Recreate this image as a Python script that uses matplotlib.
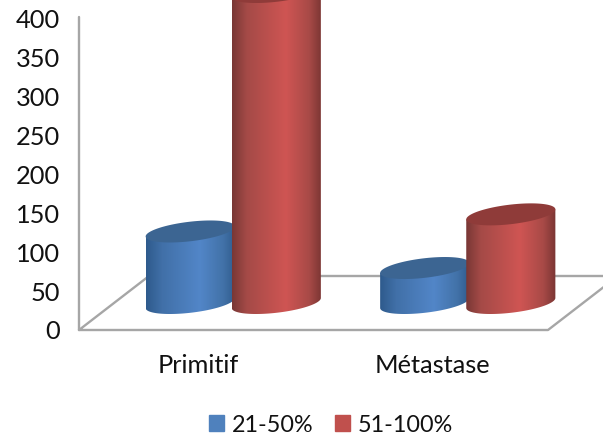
import numpy as np
import matplotlib
matplotlib.use("Agg")
import matplotlib.pyplot as plt
from matplotlib.colors import LinearSegmentedColormap
from matplotlib.patches import Patch, Polygon

# Chart data
categories = ["Primitif", "Métastase"]
series_names = ["21-50%", "51-100%"]
values_21_50 = [92, 45]
values_51_100 = [400, 114]
tick_values = [0, 50, 100, 150, 200, 250, 300, 350, 400]

# Canvas geometry, in pixels
WIDTH, HEIGHT = 603, 435
LEFT_PX, BASE_PX = 79, 331
CAT_PX = 234.5
VAL_PX = 311 / 400
x_unit = 1 / CAT_PX
y_unit = 1 / VAL_PX

DEPTH_X = 70 * x_unit
DEPTH_Y = 54 * y_unit
BAR_W = 0.38
BAR_OVERLAP = 1.5 * x_unit
CLUSTER_NUDGE = 2 * x_unit
ELL_B = 9.8 * y_unit
ELL_S = 5.0 * y_unit

FONT = "Lato"
FS_TICK = 18.3
FS_LEGEND = 16.8
TEXT = "#111111"
GRID = "#a6a6a6"

side_blue = LinearSegmentedColormap.from_list(
    "side_blue",
    [(0, "#2e5a8c"), (0.18, "#4170a8"), (0.6, "#5286c8"), (0.86, "#4272a8"), (1, "#2f5b8c")],
)
side_red = LinearSegmentedColormap.from_list(
    "side_red",
    [(0, "#783735"), (0.16, "#a44a47"), (0.6, "#cf5553"), (0.86, "#a84a47"), (1, "#7a3533")],
)
top_blue, top_red = "#3c6592", "#8f3b39"
flat_blue, flat_red = "#4f81bd", "#c0504d"

fig = plt.figure(figsize=(WIDTH / 100, HEIGHT / 100), dpi=100)
ax = fig.add_axes([0, 0, 1, 1])
ax.axis("off")
x_limits = (-LEFT_PX * x_unit, (WIDTH - LEFT_PX) * x_unit)
y_limits = (-(HEIGHT - BASE_PX) * y_unit, BASE_PX * y_unit)

# Wall edge and floor outline
n_cat = len(categories)
line_style = dict(color=GRID, lw=1.7, solid_capstyle="round", zorder=1)
ax.plot([0, 0], [0, tick_values[-1] + 3], **line_style)
ax.plot([0, DEPTH_X, n_cat + DEPTH_X, n_cat, 0], [0, DEPTH_Y, DEPTH_Y, 0, 0], **line_style)


def cylinder(center, value, cmap, top_color, z):
    a = BAR_W / 2
    y0 = DEPTH_Y / 2
    y1 = y0 + value
    t = np.linspace(np.pi, 2 * np.pi, 80)
    lower_x = center + a * np.cos(t)
    lower_y = y0 + ELL_S * np.cos(t) + ELL_B * np.sin(t)
    outline = np.column_stack(
        [
            np.r_[lower_x, center + a, center - a],
            np.r_[lower_y, y1 + ELL_S, y1 - ELL_S],
        ]
    )
    shade = np.linspace(0, 1, 256)[None, :]
    img = ax.imshow(
        shade,
        cmap=cmap,
        vmin=0,
        vmax=1,
        aspect="auto",
        interpolation="bilinear",
        extent=(center - a, center + a, y0 - 2 * ELL_B, y1 + 2 * ELL_B),
        zorder=z,
    )
    clip = Polygon(outline, closed=True, transform=ax.transData)
    img.set_clip_path(clip)
    t_full = np.linspace(0, 2 * np.pi, 160)
    ax.fill(
        center + a * np.cos(t_full),
        y1 + ELL_S * np.cos(t_full) + ELL_B * np.sin(t_full),
        color=top_color,
        lw=0,
        zorder=z + 0.5,
    )


# Each cluster sits at mid-depth of the floor
for i in range(n_cat):
    mid = i + 0.5 + DEPTH_X / 2 + CLUSTER_NUDGE
    cylinder(mid - BAR_W / 2 + BAR_OVERLAP, values_21_50[i], side_blue, top_blue, 3 + 2 * i)
    cylinder(mid + BAR_W / 2 - BAR_OVERLAP, values_51_100[i], side_red, top_red, 4 + 2 * i)

# Value and category labels
for v in tick_values:
    ax.text(-19 * x_unit, v - 1 * y_unit, str(v), ha="right", va="center",
            fontfamily=FONT, fontsize=FS_TICK, color=TEXT)
for i, name in enumerate(categories):
    ax.text(i + 0.5 + 1.5 * x_unit, -35 * y_unit, name, ha="center", va="center",
            fontfamily=FONT, fontsize=FS_TICK, color=TEXT)

ax.legend(
    handles=[Patch(color=flat_blue, label=series_names[0]), Patch(color=flat_red, label=series_names[1])],
    loc="center",
    bbox_to_anchor=(331 / WIDTH, 1 - 425.5 / HEIGHT),
    ncol=2,
    frameon=False,
    prop={"family": FONT, "size": FS_LEGEND},
    labelcolor=TEXT,
    handlelength=0.64,
    handleheight=0.64,
    handletextpad=0.34,
    columnspacing=0.95,
    borderpad=0,
)

ax.set_xlim(*x_limits)
ax.set_ylim(*y_limits)
fig.savefig("out.png", dpi=100)
